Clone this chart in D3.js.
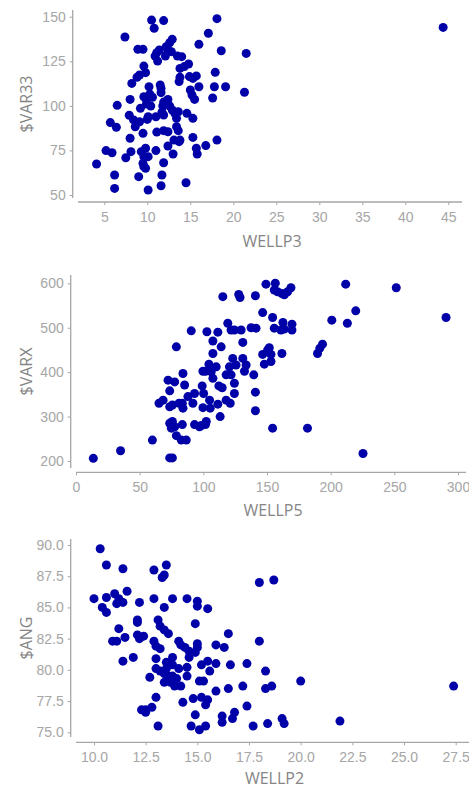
<!DOCTYPE html>
<html>
<head>
<meta charset="utf-8">
<script src="https://cdn.jsdelivr.net/npm/d3@7"></script>
<style>
  body { margin: 0; background: #fff; }
  svg { display: block; font-family: "Open Sans", "DejaVu Sans", sans-serif; }
  .tick text { fill: #a6a6a6; font-size: 14px; }
  .domain, .tick line { stroke: #a6a6a6; }
  .title { fill: #858585; font-size: 16px; }
</style>
</head>
<body>
<div id="chart"></div>
<script>
// WELLP3 vs $VAR33
var wellp3 = [4.1,5.2,5.9,5.7,6.4,6.5,6.2,6.2,7.4,7.5,8.1,8.0,8.0,7.9,8.2,8.4,8.6,8.9,9.5,8.8,
  9.1,9.0,9.1,9.2,9.5,9.3,9.6,9.5,9.6,9.8,9.8,10.1,10.1,9.6,9.8,9.9,9.6,10.2,10.3,9.9,
  10.4,10.1,10.0,10.5,10.8,10.6,10.9,11.2,11.1,11.4,11.0,11.1,11.0,11.5,11.6,11.6,11.9,12.1,11.9,11.8,
  11.9,11.7,11.9,12.4,11.9,11.7,11.6,12.4,12.2,12.4,12.6,12.9,12.8,12.4,12.6,12.9,13.2,13.1,13.0,13.5,
  14.0,13.4,13.6,13.4,13.6,13.7,13.8,13.7,13.8,13.8,14.3,14.8,14.6,14.5,14.9,15.3,15.7,15.0,15.2,15.5,
  15.3,15.3,15.7,15.8,16.0,16.0,16.8,17.1,17.6,17.8,17.9,18.1,18.1,18.6,19.1,21.3,21.5,44.4];
var var33 = [67.4,74.9,73.7,90.6,88.0,100.3,61.2,53.7,138.6,70.9,74.3,81.8,103.6,94.7,112.6,92.1,88.3,131.7,131.7,116.0,
  117.3,60.3,91.1,98.6,84.6,74.3,71.5,67.8,65.9,65.0,76.2,71.5,52.8,122.3,118.6,103.3,105.1,110.7,106.6,101.0,
  99.9,93.9,92.4,148.1,143.5,104.8,127.9,125.1,129.8,131.3,93.9,85.3,74.9,111.7,109.8,107.4,147.8,127.9,102.1,99.9,
  94.9,96.5,86.1,85.5,68.1,61.2,55.2,77.5,133.2,131.3,135.4,137.3,130.4,103.6,99.9,97.7,95.8,80.8,73.0,127.9,
  127.6,93.0,96.7,88.3,86.1,79.9,80.8,113.6,116.0,121.0,122.0,123.5,95.8,56.9,116.4,115.4,116.8,108.9,106.1,103.6,
  93.0,82.3,76.2,73.0,134.5,110.7,77.7,140.7,104.4,110.7,118.8,148.9,80.8,130.9,110.7,107.6,129.4,144.0];

// WELLP5 vs $VARX
var wellp5 = [13.6,35.0,60.0,65.2,68.4,72.3,73.6,73.6,75.7,73.6,75.7,77.5,73.6,75.7,74.9,77.5,78.8,80.9,78.8,82.7,
  83.5,83.5,84.0,85.3,84.0,86.6,87.9,90.5,91.8,93.1,93.1,97.0,98.4,99.1,99.7,99.7,100.2,101.7,101.7,102.8,
  102.3,104.4,104.9,106.2,105.4,107.5,107.5,107.5,110.1,111.4,112.2,111.4,113.2,115.3,114.0,114.8,117.9,119.2,117.9,120.5,
  121.1,121.8,121.8,123.1,124.4,124.4,124.4,125.7,127.8,128.8,129.7,131.0,131.0,132.3,133.6,140.9,137.5,141.4,139.6,140.9,
  140.9,146.6,149.2,146.6,147.9,150.5,151.8,153.1,153.1,154.4,154.4,155.7,156.5,155.7,158.3,160.9,161.7,161.7,163.6,162.5,
  163.6,166.2,168.8,169.6,169.6,181.8,189.7,191.5,193.6,200.9,211.8,213.1,219.7,225.4,251.5,290.6];
var varx = [206,223,247,330,337,382,358,207,207,322,326,378,285,289,274,277,457,330,257,247,
  282,330,397,371,319,247,345,493,330,352,282,277,280,369,402,320,352,282,402,491,
  289,418,337,401,319,470,442,386,412,490,369,328,300,570,457,365,337,510,394,412,
  330,495,394,431,495,375,352,416,575,568,495,467,431,402,416,572,500,499,394,355,
  313,534,598,440,418,450,455,424,440,523,274,499,600,585,581,495,442,577,574,512,
  497,581,590,508,495,274,442,454,463,517,598,510,538,217,590,523];

// WELLP2 vs $ANG
var wellp2 = [10.3,10.0,10.4,10.6,10.6,10.6,11.0,11.1,11.2,11.4,11.4,11.6,10.9,11.1,11.2,11.5,11.4,11.9,12.2,12.1,
  12.1,12.1,12.2,12.4,12.3,12.5,12.5,12.7,12.8,12.9,12.9,12.9,13.0,13.0,13.0,13.1,13.1,13.2,13.2,13.0,
  13.2,13.3,13.4,13.5,13.4,13.4,13.5,13.4,13.4,13.5,13.6,13.6,13.7,13.8,13.8,13.8,13.8,13.9,14.0,14.1,
  14.1,14.2,14.2,14.3,14.4,14.5,14.5,14.5,14.6,14.6,14.7,14.8,14.9,14.9,14.9,15.0,15.0,15.0,15.0,15.1,
  15.1,15.2,15.2,15.3,15.4,15.5,15.5,15.4,15.5,15.6,15.9,15.9,15.9,16.2,16.2,16.3,16.5,16.5,16.6,16.7,
  16.8,17.2,17.4,17.4,17.7,18.0,18.0,18.3,18.3,18.4,18.6,18.7,19.1,19.2,20.0,21.9,27.4];
var ang = [89.7,85.7,85.0,84.6,88.4,85.8,86.1,85.3,85.7,85.4,88.1,86.3,82.3,82.3,83.3,82.6,80.7,81.0,85.4,84.0,
  83.8,82.8,82.5,82.7,76.8,76.8,76.6,79.4,77.0,88.0,85.7,82.3,81.9,80.9,77.8,84.0,75.5,83.5,81.7,80.1,
  79.9,87.4,87.6,88.4,85.0,83.2,80.1,79.7,79.0,80.6,82.9,79.5,79.0,85.7,81.0,80.4,79.5,78.7,79.3,82.3,
  80.1,78.7,82.0,77.4,81.8,85.7,80.2,79.5,81.0,81.5,75.5,77.7,76.4,83.7,81.4,85.1,85.5,81.8,82.1,79.1,
  75.2,80.4,77.8,79.1,75.5,84.9,77.6,77.2,80.7,79.9,82.0,80.5,78.3,76.3,75.8,81.8,78.5,82.9,80.4,76.1,
  76.6,78.7,80.5,77.1,75.5,82.3,87.0,79.9,78.5,75.7,78.7,87.2,76.1,75.7,79.1,75.9,78.7];

var xTicks1 = [5,10,15,20,25,30,35,40,45], yTicks1 = [50,75,100,125,150];
var xTicks2 = [0,50,100,150,200,250,300], yTicks2 = [200,300,400,500,600];
var xTicks3 = [10,12.5,15,17.5,20,22.5,25,27.5], yTicks3 = [75,77.5,80,82.5,85,87.5,90];

var W = 469, H = 789;
var svg = d3.select("#chart").append("svg").attr("width", W).attr("height", H);

// panel layout: x range = x axis line extent, y range = y axis line extent
var panels = [
  {x: wellp3, y: var33, xt: xTicks1, yt: yTicks1, xl: "WELLP3", yl: "$VAR33", fmt: d3.format("d"),
   xd: [5, 45], xr: [104.3, 448.3], yd: [50, 150], yr: [195, 16.7],
   xLine: [78, 462], yLine: [10, 198], axisY: 202, axisX: 72.7, xTitleY: 247, yTitleX: 32},
  {x: wellp5, y: varx, xt: xTicks2, yt: yTicks2, xl: "WELLP5", yl: "$VARX", fmt: d3.format("d"),
   xd: [0, 300], xr: [76, 458], yd: [200, 600], yr: [461, 283.3],
   xLine: [76, 466], yLine: [275, 468], axisY: 472.3, axisX: 70.7, xTitleY: 516, yTitleX: 32},
  {x: wellp2, y: ang, xt: xTicks3, yt: yTicks3, xl: "WELLP2", yl: "$ANG", fmt: d3.format(".1f"),
   xd: [10, 27.5], xr: [94, 455.7], yd: [75, 90], yr: [732.3, 545],
   xLine: [76, 469], yLine: [539, 737], axisY: 742.3, axisX: 70.7, xTitleY: 784, yTitleX: 32}
];

panels.forEach(function(p) {
  var x = d3.scaleLinear().domain(p.xd).range(p.xr);
  var y = d3.scaleLinear().domain(p.yd).range(p.yr);
  var g = svg.append("g");

  var xa = g.append("g").attr("transform", "translate(0," + p.axisY + ")")
    .call(d3.axisBottom(x).tickValues(p.xt).tickFormat(p.fmt).tickSize(3).tickSizeOuter(0).tickPadding(7));
  xa.select(".domain").attr("d", "M" + p.xLine[0] + ",0H" + p.xLine[1]);

  var ya = g.append("g").attr("transform", "translate(" + p.axisX + ",0)")
    .call(d3.axisLeft(y).tickValues(p.yt).tickFormat(p.fmt).tickSize(3).tickSizeOuter(0).tickPadding(4));
  ya.select(".domain").attr("d", "M0," + p.yLine[0] + "V" + p.yLine[1]);
  g.selectAll(".domain").attr("stroke-width", 1.3);

  g.append("text").attr("class", "title")
    .attr("x", (p.xLine[0] + p.xLine[1]) / 2 + 2).attr("y", p.xTitleY)
    .attr("text-anchor", "middle").text(p.xl);
  g.append("text").attr("class", "title")
    .attr("transform", "translate(" + p.yTitleX + "," + (p.yLine[0] + p.yLine[1]) / 2 + ") rotate(-90)")
    .attr("text-anchor", "middle").text(p.yl);

  g.append("g").selectAll("circle")
    .data(d3.zip(p.x, p.y))
    .enter().append("circle")
    .attr("cx", function(d) { return x(d[0]); })
    .attr("cy", function(d) { return y(d[1]); })
    .attr("r", 4.5)
    .attr("fill", "#0000a8");
});
</script>
</body>
</html>
